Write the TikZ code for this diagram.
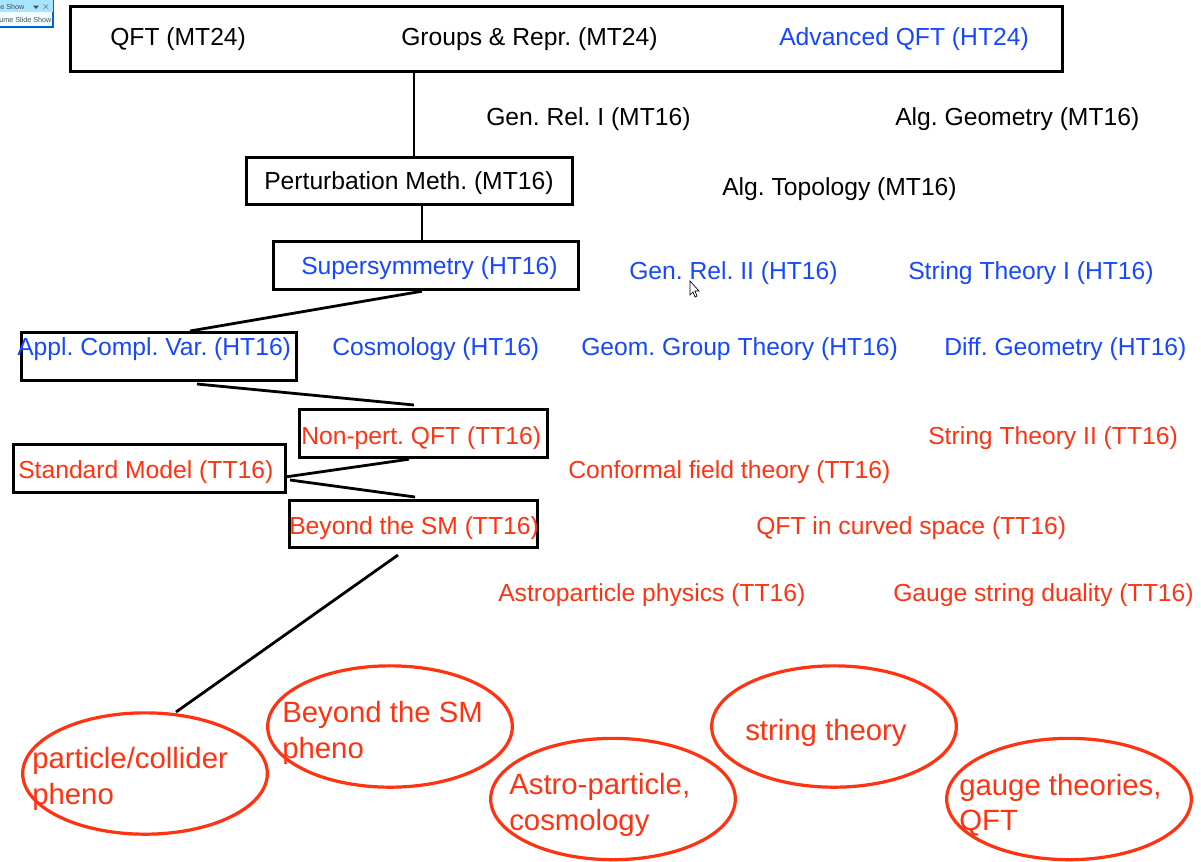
\documentclass[tikz,border=0pt]{standalone}
\usepackage{fontspec}
\setmainfont{Liberation Sans}
\usetikzlibrary{shapes.geometric,shadows}
\definecolor{tblue}{HTML}{1648FF}
\definecolor{tred}{HTML}{FF3311}
\frenchspacing
\tikzset{
  x=0.75pt,y=-0.75pt,
  lbl/.style={anchor=base west,inner sep=0pt,font=\fontsize{18.5pt}{22pt}\selectfont},
  k/.style={lbl,text=black},
  b/.style={lbl,text=tblue},
  r/.style={lbl,text=tred},
  boxn/.style={draw=black,line width=2.4pt,fill=white,inner sep=0pt,anchor=north west,
    drop shadow={shadow xshift=0.8pt,shadow yshift=-0.8pt,fill=black,opacity=.3}},
  oval/.style={ellipse,draw=tred,line width=2.4pt,fill=white,inner sep=0pt,minimum width=183.5pt,minimum height=91pt,
    drop shadow={shadow xshift=0.8pt,shadow yshift=-0.8pt,fill=black,opacity=.25}},
  ovtxt/.style={anchor=west,align=left,inner sep=0pt,text=tred,font=\fontsize{22pt}{26.6pt}\selectfont},
  link/.style={draw=black,line width=2.1pt},
}
\newcommand{\bx}[5]{\node[boxn,minimum width=#4*0.75pt-1.5pt,minimum height=#5*0.75pt-1.5pt] (#1) at (#2,#3) {};}
\begin{document}
\begin{tikzpicture}
\useasboundingbox (0,0) rectangle (1201,861);
% slide-show widget
\fill[fill=blue!8!cyan!6!white,draw=blue!55!cyan!85!black,line width=0.9pt] (-2,-2) rectangle (53,27);
\fill[fill=blue!30!cyan!35!white] (-2,-2) rectangle (52.5,12);
\node[anchor=west,inner sep=0pt,font=\fontsize{5.4pt}{6pt}\selectfont,text=black!70] (wa) at (0,6.5) {e Show};
\node[anchor=west,inner sep=0pt,font=\fontsize{5.4pt}{6pt}\selectfont,text=black!70] (wb) at (-1,20) {ume Slide Show};
\node[anchor=center,inner sep=0pt,font=\fontsize{7pt}{6pt}\selectfont,text=black!70] (wc) at (46,7) {$\times$};
\fill[black!70] (33,5.5) -- (39,5.5) -- (36,9) -- cycle;
% boxes
\bx{top}{69}{5}{994}{67}
\bx{pert}{245}{156}{328}{49}
\bx{susy}{272}{240}{307}{50}
\bx{appl}{20}{331}{277}{50}
\bx{nonp}{298}{408}{250}{50}
\bx{sm}{12}{443}{274}{50}
\bx{bsm}{288}{499}{250}{49}
% connectors
\draw[link] (top.south -| 414,0) -- (pert.north -| 414,0);
\draw[link] (pert.south -| 422,0) -- (susy.north -| 422,0);
\draw[link] (susy.south -| 422,0) -- (appl.north -| 190,0);
\coordinate (e1) at (197,384);
\coordinate (e2) at (414,405);
\draw[link] (e1) -- (e2);
\coordinate (e3) at (285,477);
\draw[link] (nonp.south -| 409,0) -- (e3);
\coordinate (e4) at (290,480);
\coordinate (e5) at (415,497);
\draw[link] (e4) -- (e5);
\coordinate (e6) at (398,555);
\coordinate (e7) at (176,712);
% ovals
\node[oval] (o1) at (145,773.5) {};
\node[oval] (o2) at (390,726.5) {};
\node[oval] (o3) at (613,799) {};
\node[oval] (o4) at (834,726.5) {};
\node[oval] (o5) at (1069,799) {};
\draw[link] (e6) -- (e7);
% texts
\node[k] (t1) at (110,45.5) {QFT (MT24)};
\node[k] (t2) at (401,45.5) {Groups \& Repr. (MT24)};
\node[b] (t3) at (779,45.5) {Advanced QFT (HT24)};
\node[k] (t4) at (486,125) {Gen. Rel. I (MT16)};
\node[k] (t5) at (895,125) {Alg. Geometry (MT16)};
\node[k] (t6) at (264,189.5) {Perturbation Meth. (MT16)};
\node[k] (t7) at (722,195) {Alg. Topology (MT16)};
\node[b] (t8) at (301,274.5) {Supersymmetry (HT16)};
\node[b] (t9) at (629,279.5) {Gen. Rel. II (HT16)};
\node[b] (t10) at (908,279.5) {String Theory I (HT16)};
\node[b] (t11) at (17,355) {Appl. Compl. Var. (HT16)};
\node[b] (t12) at (332,355) {Cosmology (HT16)};
\node[b] (t13) at (581,355) {Geom. Group Theory (HT16)};
\node[b] (t14) at (944,355) {Diff. Geometry (HT16)};
\node[r] (t15) at (301,444.5) {Non-pert. QFT (TT16)};
\node[r] (t16) at (928,444.5) {String Theory II (TT16)};
\node[r] (t17) at (18,478.5) {Standard Model (TT16)};
\node[r] (t18) at (568,478.5) {Conformal field theory (TT16)};
\node[r] (t19) at (289,534) {Beyond the SM (TT16)};
\node[r] (t20) at (756,534) {QFT in curved space (TT16)};
\node[r] (t21) at (498,601) {Astroparticle physics (TT16)};
\node[r] (t22) at (893,601) {Gauge string duality (TT16)};
% oval texts
\node[ovtxt] (x1) at (32,779) {particle/collider\\pheno};
\node[ovtxt] (x2) at (282,733) {Beyond the SM\\pheno};
\node[ovtxt] (x3) at (509,805) {Astro-particle,\\cosmology};
\node[ovtxt] (x4) at (745,733) {string theory};
\node[ovtxt] (x5) at (959,805) {gauge theories,\\QFT};
% cursor
\filldraw[fill=white,draw=black,line width=0.5pt] (690,281) -- (690,295) -- (693,292) -- (695,297) -- (697,296) -- (695,291) -- (699,291) -- cycle;
\end{tikzpicture}
\end{document}
